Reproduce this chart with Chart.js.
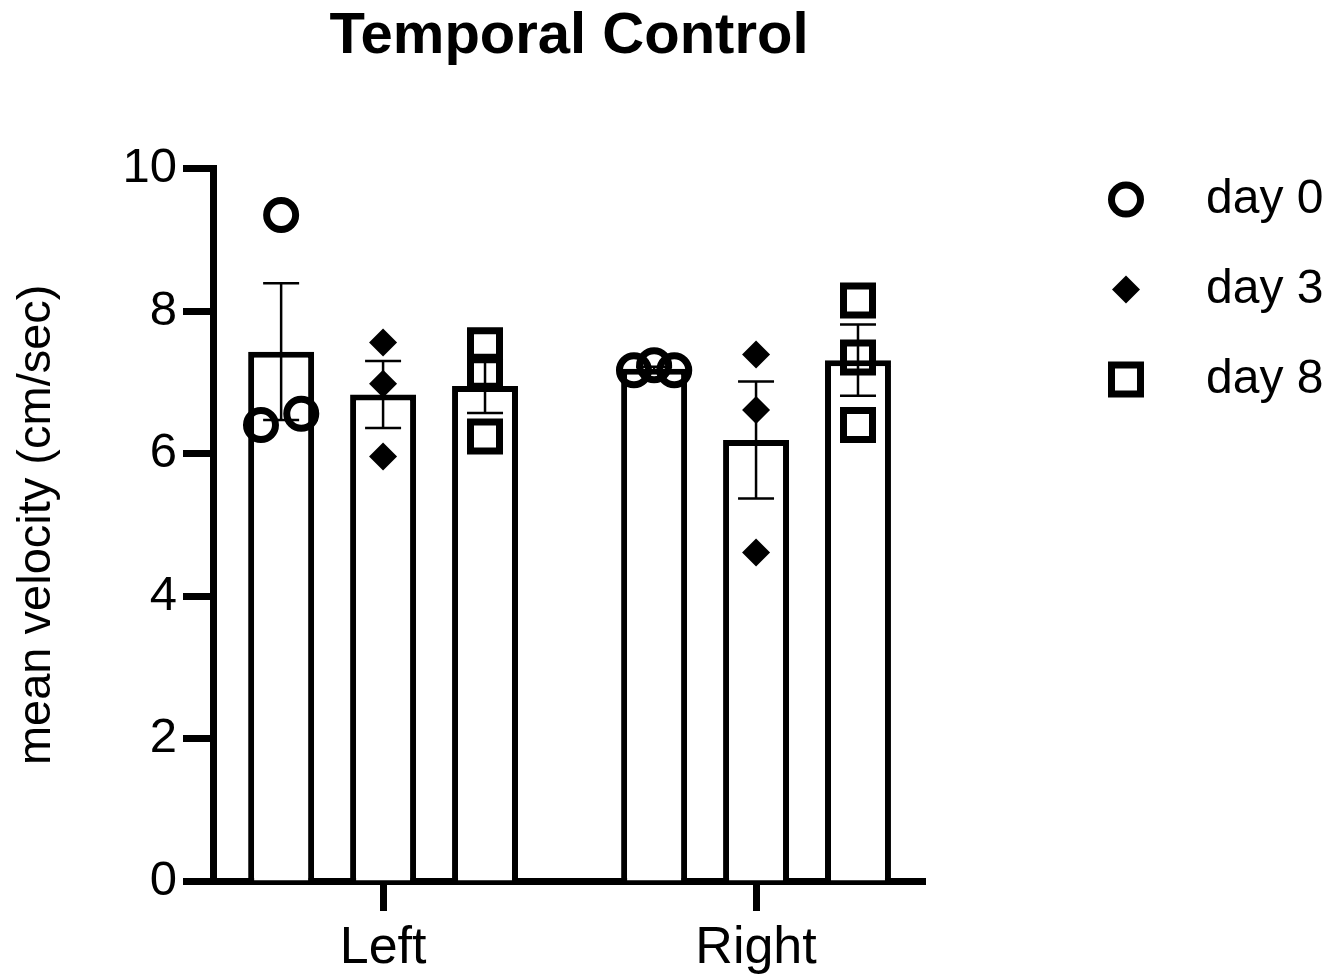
<!DOCTYPE html>
<html>
<head>
<meta charset="utf-8">
<script src="https://cdn.jsdelivr.net/npm/chart.js@4/dist/chart.umd.min.js"></script>
<style>
  body { margin: 0; background: #fff; }
  #wrap { width: 1341px; height: 975px; }
</style>
</head>
<body>
<div id="wrap"><canvas id="chart" width="1341" height="975"></canvas></div>
<script>
const CATEGORIES = ['Left', 'Right'];
const SERIES = ['day 0', 'day 3', 'day 8'];

// bar heights (mean) and SEM per category
const DAY0_MEAN = [7.43, 7.19];
const DAY3_MEAN = [6.83, 6.19];
const DAY8_MEAN = [6.95, 7.31];
const DAY0_SEM = [0.96, 0.03];
const DAY3_SEM = [0.47, 0.82];
const DAY8_SEM = [0.38, 0.50];

// individual animals
const DAY0_POINTS = [[9.35, 6.40, 6.56], [7.17, 7.24, 7.17]];
const DAY3_POINTS = [[7.56, 6.98, 5.96], [7.39, 6.61, 4.61]];
const DAY8_POINTS = [[7.52, 7.15, 6.24], [8.15, 7.35, 6.40]];

const Y_TICKS = [0, 2, 4, 6, 8, 10];

const FONT = "'Liberation Sans', Arial, Helvetica, sans-serif";
const CAT_PCT = 0.82;
const BAR_PCT = 0.647;
const X_MIN = -0.456;
const X_MAX = 1.453;
const JITTER = 0.054;

const means = [DAY0_MEAN, DAY3_MEAN, DAY8_MEAN];
const sems = [DAY0_SEM, DAY3_SEM, DAY8_SEM];
const points = [DAY0_POINTS, DAY3_POINTS, DAY8_POINTS];
const markers = [
    { pointStyle: 'circle', pointRadius: 14.5, pointBorderWidth: 7, pointBackgroundColor: 'rgba(0,0,0,0)' },
    { pointStyle: 'rectRot', pointRadius: 14, pointBorderWidth: 0, pointBackgroundColor: '#000' },
    { pointStyle: 'rect', pointRadius: 20.5, pointBorderWidth: 7, pointBackgroundColor: 'rgba(0,0,0,0)' }
];

// points that sit on top of each other get pushed sideways
function spread(values) {
    const offsets = values.map(() => 0);
    const done = [];
    values.forEach((v, i) => {
        if (done.includes(i)) return;
        const group = [i];
        for (let j = i + 1; j < values.length; j++) {
            if (group.some(k => Math.abs(values[k] - values[j]) < 0.3)) group.push(j);
        }
        if (group.length > 1) {
            group.forEach((k, n) => {
                offsets[k] = -JITTER + 2 * JITTER * n / (group.length - 1);
                done.push(k);
            });
        }
    });
    return offsets;
}

const datasets = [];
SERIES.forEach((name, d) => {
    datasets.push({
        type: 'bar',
        label: name,
        data: CATEGORIES.map((c, i) => ({ x: i, y: means[d][i] })),
        sem: sems[d],
        backgroundColor: '#fff',
        borderColor: '#000',
        borderWidth: 6,
        categoryPercentage: CAT_PCT,
        barPercentage: BAR_PCT,
        order: 2
    });
});
SERIES.forEach((name, d) => {
    const data = [];
    CATEGORIES.forEach((c, i) => {
        const offs = spread(points[d][i]);
        points[d][i].forEach((v, k) => {
            data.push({ x: i + (d - 1) * CAT_PCT / 3 + offs[k], y: v });
        });
    });
    datasets.push(Object.assign({
        type: 'scatter',
        label: name,
        data: data,
        pointBorderColor: '#000',
        order: 1
    }, markers[d]));
});

// SEM whiskers drawn right after each bar dataset, under the points
const errorBars = {
    id: 'errorBars',
    afterDatasetDraw(chart, args) {
        const meta = args.meta;
        if (meta.type !== 'bar') return;
        const ds = chart.data.datasets[args.index];
        const y = chart.scales.y;
        const ctx = chart.ctx;
        ctx.save();
        ctx.strokeStyle = '#000';
        ctx.lineWidth = 2.5;
        meta.data.forEach((bar, i) => {
            const m = ds.data[i].y;
            const top = y.getPixelForValue(m + ds.sem[i]);
            const bot = y.getPixelForValue(m - ds.sem[i]);
            ctx.beginPath();
            ctx.moveTo(bar.x, top);
            ctx.lineTo(bar.x, bot);
            ctx.moveTo(bar.x - 18, top);
            ctx.lineTo(bar.x + 18, top);
            ctx.moveTo(bar.x - 18, bot);
            ctx.lineTo(bar.x + 18, bot);
            ctx.stroke();
        });
        ctx.restore();
    }
};

// legend on the right, marker then label
const sideLegend = {
    id: 'sideLegend',
    afterDraw(chart) {
        const ctx = chart.ctx;
        const area = chart.chartArea;
        let row = 0;
        chart.data.datasets.forEach(ds => {
            if (ds.type !== 'scatter') return;
            const cx = area.right + 201;
            const cy = area.top + 31 + row * 90;
            ctx.save();
            ctx.fillStyle = ds.pointBackgroundColor;
            ctx.strokeStyle = '#000';
            ctx.lineWidth = ds.pointBorderWidth;
            Chart.helpers.drawPoint(ctx, {
                pointStyle: ds.pointStyle,
                radius: ds.pointRadius,
                borderWidth: ds.pointBorderWidth,
                rotation: 0
            }, cx, cy);
            ctx.fillStyle = '#000';
            ctx.font = '48px ' + FONT;
            ctx.textAlign = 'left';
            ctx.textBaseline = 'middle';
            ctx.fillText(ds.label, cx + 80, cy);
            ctx.restore();
            row++;
        });
    }
};

new Chart(document.getElementById('chart'), {
    data: { datasets: datasets },
    options: {
        responsive: false,
        animation: false,
        layout: { padding: { left: 0, right: 416, top: 0, bottom: 0 } },
        plugins: {
            legend: { display: false },
            tooltip: { enabled: false },
            title: {
                display: true,
                text: 'Temporal Control',
                color: '#000',
                fullSize: false,
                font: { family: FONT, size: 58, weight: 'bold' },
                padding: { top: 2, bottom: 97 }
            }
        },
        scales: {
            x: {
                type: 'linear',
                min: X_MIN,
                max: X_MAX,
                offset: false,
                z: 1,
                afterBuildTicks: scale => {
                    scale.ticks = CATEGORIES.map((c, i) => ({ value: i }));
                },
                afterFit: scale => { scale.height = 94; },
                ticks: {
                    color: '#000',
                    padding: 6,
                    font: { family: FONT, size: 52 },
                    callback: v => CATEGORIES[v]
                },
                grid: {
                    offset: false,
                    drawOnChartArea: false,
                    tickLength: 30,
                    tickWidth: 7,
                    tickColor: '#000'
                },
                border: { color: '#000', width: 7 }
            },
            y: {
                min: 0,
                max: 10,
                afterBuildTicks: scale => {
                    scale.ticks = Y_TICKS.map(v => ({ value: v }));
                },
                afterFit: scale => { scale.width = 213; },
                ticks: {
                    color: '#000',
                    padding: 6,
                    font: { family: FONT, size: 49 }
                },
                grid: {
                    drawOnChartArea: false,
                    tickLength: 30,
                    tickWidth: 7,
                    tickColor: '#000'
                },
                border: { color: '#000', width: 7 },
                title: {
                    display: true,
                    text: 'mean velocity (cm/sec)',
                    color: '#000',
                    font: { family: FONT, size: 47 },
                    padding: { top: 9, bottom: 0 }
                }
            }
        }
    },
    plugins: [errorBars, sideLegend]
});
</script>
</body>
</html>
